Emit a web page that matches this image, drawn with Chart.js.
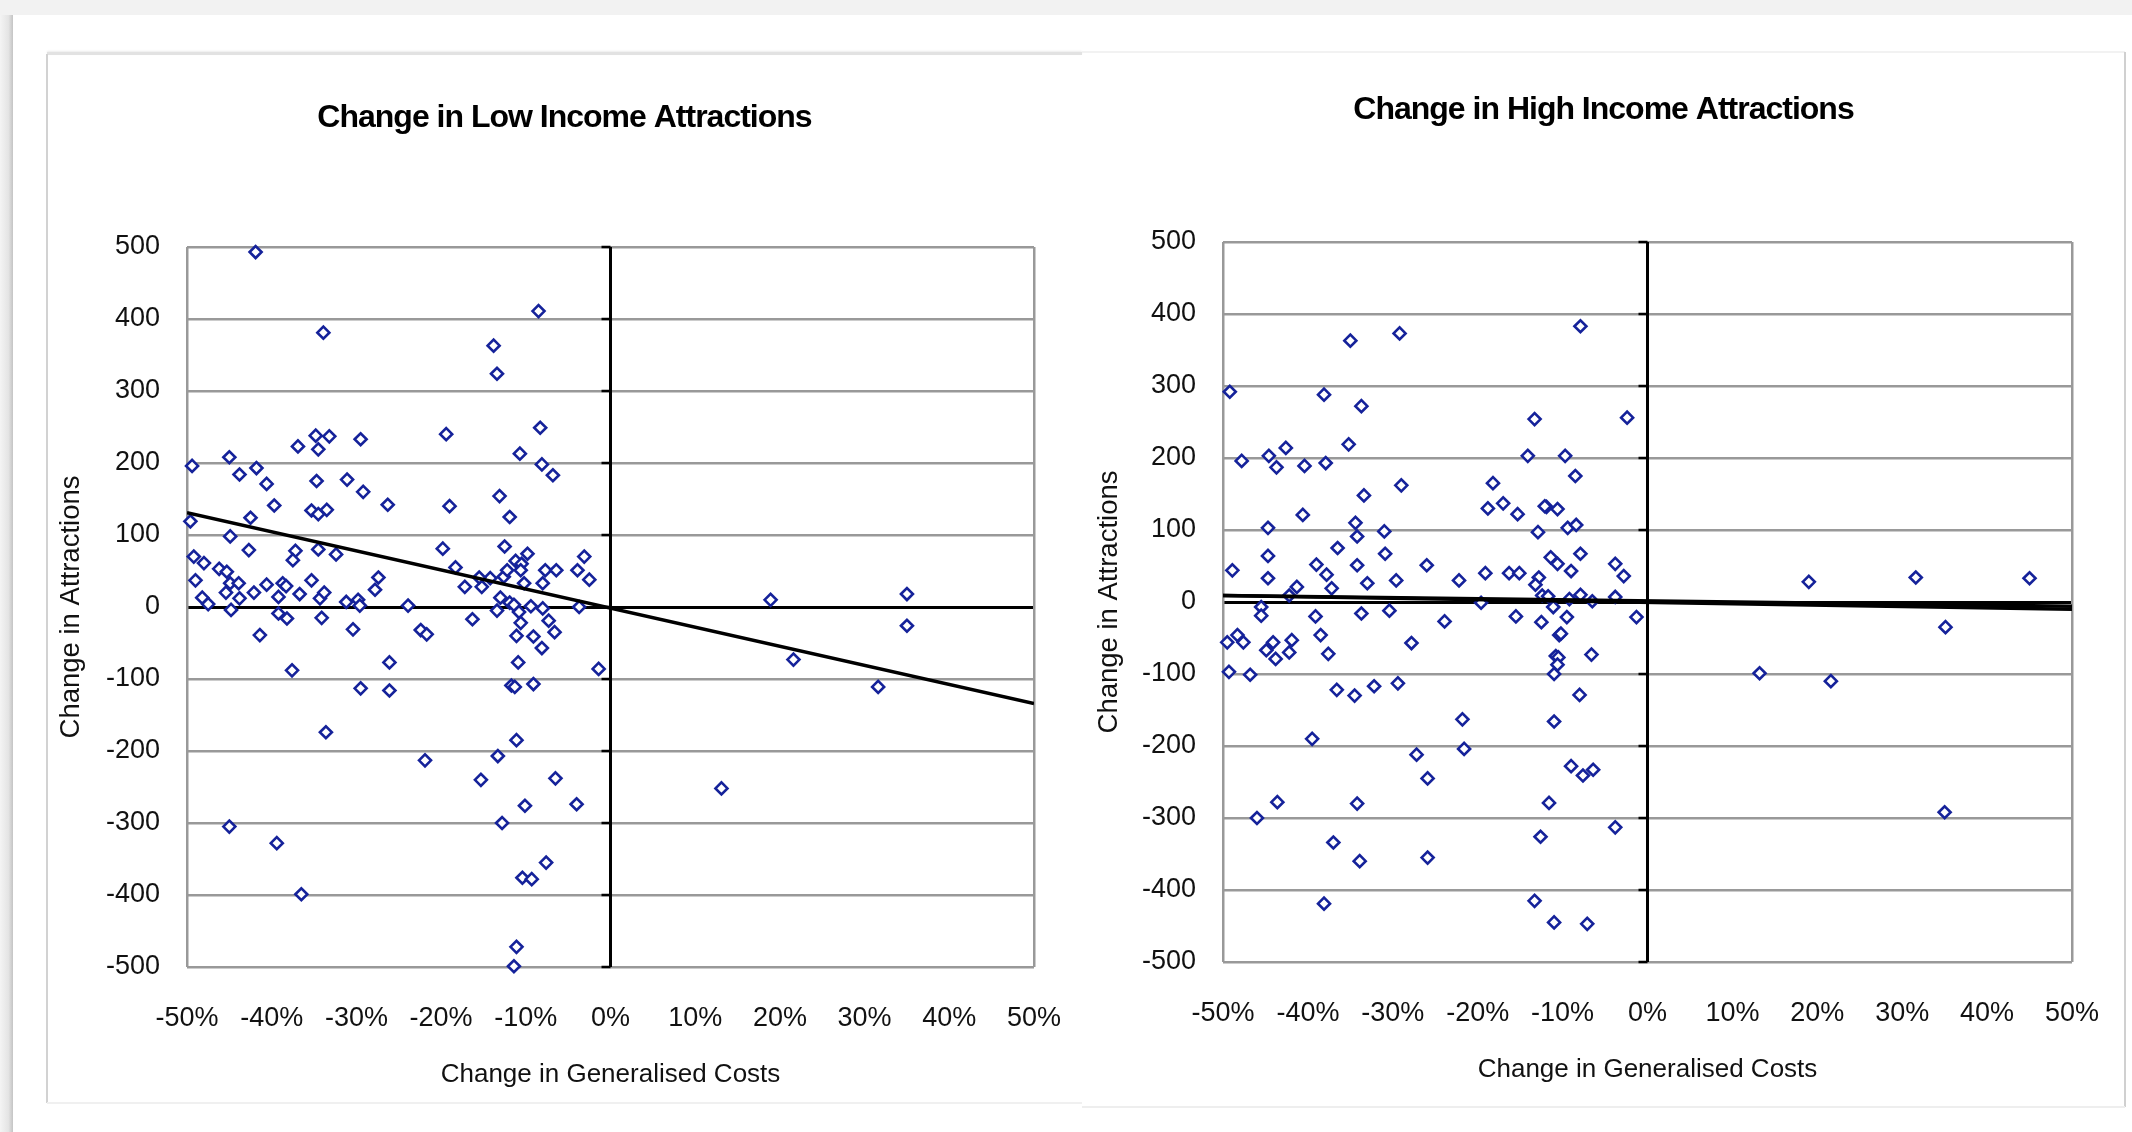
<!DOCTYPE html>
<html>
<head>
<meta charset="utf-8">
<title>Change in Attractions vs Change in Generalised Costs</title>
<script src="https://cdn.jsdelivr.net/npm/chart.js@4.4.1/dist/chart.umd.min.js"></script>
<style>
  html, body { margin: 0; padding: 0; background: #fff; }
  body { position: relative; width: 2132px; height: 1132px; overflow: hidden; font-family: "Liberation Sans", Arial, sans-serif; }
  .strip, .edge, canvas { position: absolute; }
  #topStrip { left: 0; top: 0; width: 2132px; height: 15px; background: #f2f2f2; }
  #leftStrip { left: 0; top: 15px; width: 13px; height: 1117px; background: linear-gradient(to right, #f4f4f4, #e4e4e4 65%, #c4c4c4); }
  #lowTopEdge { left: 47px; top: 52px; width: 1035px; height: 3px; background: #e2e2e2; box-shadow: 0 -1px 2px #ececec; }
  #lowLeftEdge { left: 46px; top: 54px; width: 2px; height: 1049px; background: #d2d2d2; }
  #lowBottomEdge { left: 47px; top: 1102px; width: 1035px; height: 2px; background: #f0f0f0; }
  #highTopEdge { left: 1082px; top: 51px; width: 1043px; height: 2px; background: #f2f2f2; }
  #highRightEdge { left: 2124px; top: 52px; width: 2px; height: 1055px; background: #d0d0d0; }
  #highBottomEdge { left: 1082px; top: 1106px; width: 1043px; height: 2px; background: #eeeeee; }
  #lowChart { left: 47px; top: 54px; }
  #highChart { left: 1082px; top: 52px; }
</style>
</head>
<body>
<div class="strip" id="topStrip"></div>
<div class="strip" id="leftStrip"></div>
<div class="edge" id="lowTopEdge"></div>
<div class="edge" id="lowLeftEdge"></div>
<div class="edge" id="lowBottomEdge"></div>
<div class="edge" id="highTopEdge"></div>
<div class="edge" id="highRightEdge"></div>
<div class="edge" id="highBottomEdge"></div>
<canvas id="lowChart" width="1035" height="1049"></canvas>
<canvas id="highChart" width="1043" height="1055"></canvas>

<script>
// Low income zones: change in generalised cost (%) and change in attractions
const lowX = [
  -41.9, -8.5, -33.9, -13.8, -13.4, -8.3, -34.8, -33.2, -29.5, -19.4,
  -36.9, -34.5, -10.7, -49.4, -45.0, -41.8, -8.1, -43.8, -6.8, -40.6,
  -34.7, -31.1, -29.2, -39.7, -26.3, -19.0, -13.1, -11.9, -35.3, -34.5,
  -33.5, -49.6, -42.5, -44.9, -12.5, -19.8, -42.7, -37.2, -34.5, -32.4,
  -49.2, -48.0, -37.5, -9.8, -3.1, -11.2, -10.5, -49.0, -46.2, -45.3,
  -45.4, -44.9, -43.9, -42.1, -40.6, -38.7, -38.3, -36.7, -35.3, -34.3,
  -33.8, -39.2, -43.8, -48.2, -47.5, -44.8, -39.2, -38.2, -34.1, -41.4,
  -37.6, -33.6, -45.0, -39.4, -36.5, -31.2, -29.8, -29.6, -30.4, -29.5,
  -27.8, -27.4, -23.9, -26.1, -26.1, -22.4, -21.7, -21.9, -18.3, -17.2,
  -16.3, -15.2, -15.3, -14.2, -13.4, -13.0, -13.3, -12.8, -11.9, -11.4,
  -10.8, -10.6, -11.1, -10.9, -11.7, -11.3, -11.1, -10.1, -10.4, -9.3,
  -7.6, -11.1, -11.4, -15.5, -12.6, -10.2, -9.4, -8.0, -7.3, -6.6,
  -9.1, -8.1, -9.1, -6.5, -4.0, -7.7, -6.4, -3.9, -2.5, -3.7,
  -1.4, -12.2, -10.6, -8.0, 18.9, 21.6, 13.1, 31.6, 35.0, 35.0
];
const lowY = [
  493, 411, 381, 363, 324, 249, 238, 237, 233, 240,
  223, 219, 213, 196, 208, 193, 198, 184, 183, 171,
  175, 177, 160, 141, 142, 140, 154, 125, 134, 129,
  135, 119, 124, 98, 84, 81, 79, 78, 80, 73,
  70, 61, 65, 74, 70, 64, 60, 37, 53, 49,
  20, 33, 33, 20, 31, 33, 29, 18, 37, 12,
  20, 14, 12, 13, 4, -4, -9, -16, -15, -39,
  -88, -174, -305, -328, -399, 7, 10, 2, -31, -113,
  24, 41, 2, -77, -116, -32, -38, -213, 55, 28,
  -17, 28, -240, 40, -5, 13, -207, -300, 6, 3,
  -7, -22, -40, -77, -109, -111, -185, -276, -376, -378,
  -355, -472, -499, 41, 42, 33, 1, -2, -19, -35,
  -41, -57, -107, -238, -274, 51, 51, 51, 38, 0,
  -86, 51, 51, 33, 10, -73, -252, -111, 18, -26
];

// High income zones
const highX = [
  -7.9, -29.2, -35.0, -49.2, -38.1, -33.7, -13.3, -2.4, -35.2, -42.6,
  -47.8, -44.6, -43.7, -40.4, -37.9, -14.1, -9.7, -8.5, -18.2, -29.0,
  -33.4, -18.8, -17.0, -15.3, -11.9, -10.6, -40.6, -34.4, -34.2, -44.7,
  -31.0, -12.9, -9.4, -8.4, -36.5, -44.7, -30.9, -7.9, -11.4, -10.6,
  -48.9, -39.0, -37.8, -34.2, -26.0, -44.7, -41.3, -37.2, -33.0, -29.6,
  -22.2, -19.1, -16.3, -15.1, -12.8, -13.2, -9.0, -3.8, -2.8, -42.2,
  -19.6, -12.4, -11.7, -11.1, -9.2, -7.9, -6.5, -3.8, -45.5, -45.5,
  -33.7, -30.4, -23.9, -15.5, -12.5, -9.5, -1.3, -39.1, -49.5, -48.3,
  -47.6, -44.1, -44.9, -43.8, -41.9, -42.2, -38.5, -37.6, -27.8, -49.3,
  -46.8, -36.6, -34.5, -32.2, -29.4, -10.4, -10.2, -10.8, -10.5, -10.6,
  -11.0, -6.6, -8.0, -11.0, -21.8, -21.6, -39.5, -27.2, -25.9, -9.0,
  -7.6, -6.4, -46.0, -43.6, -34.2, -11.6, -3.8, -37.0, -33.9, -25.9,
  -12.6, -38.1, -13.3, -11.0, -7.1, -12.1, 19.0, 31.6, 45.0, 35.1,
  13.2, 21.6, 35.0
];
const highY = [
  383, 373, 363, 292, 288, 272, 254, 256, 219, 214,
  196, 203, 187, 189, 193, 203, 203, 175, 165, 162,
  148, 130, 137, 122, 132, 129, 121, 110, 91, 103,
  98, 97, 103, 107, 75, 64, 67, 67, 62, 53,
  44, 52, 38, 51, 51, 33, 21, 19, 26, 30,
  30, 40, 40, 40, 34, 24, 43, 53, 36, 9,
  -1, 9, 8, -7, 4, 10, 1, 7, -7, -19,
  -16, -12, -27, -20, -28, -21, -21, -20, -56, -46,
  -56, -56, -67, -79, -53, -70, -46, -72, -57, -97,
  -101, -122, -130, -117, -113, -46, -44, -75, -77, -87,
  -100, -73, -129, -166, -163, -204, -190, -212, -245, -228,
  -241, -233, -300, -278, -280, -279, -313, -334, -360, -355,
  -326, -419, -415, -445, -447, 133, 28, 34, 33, -35,
  -99, -110, -292
];

// Linear trend lines (attractions = slope * cost% + intercept)
const lowTrendSlope = -2.65;
const lowTrendIntercept = -1.5;
const highTrendSlopes = [-0.15, -0.19];
const highTrendIntercepts = [1.5, -0.5];

// Axis ranges and tick spacing
const costRange = [-50, 50];
const costStep = 10;
const attractionRange = [-500, 500];
const attractionStep = 100;

const FONT = "'Liberation Sans', Arial, sans-serif";
const TEXT = '#111111';
const MARKER = '#15229a';
const GRID = '#999999';
const CLEAR = 'rgba(0,0,0,0)';

function toPoints(xs, ys) {
  return xs.map((x, i) => ({ x: x, y: ys[i] }));
}

function trendPoints(slope, intercept) {
  return costRange.map(x => ({ x: x, y: slope * x + intercept }));
}

// Short black tick marks on the left side of the vertical zero axis
const zeroAxisTicks = {
  id: 'zeroAxisTicks',
  beforeDatasetsDraw(chart) {
    const { ctx, scales } = chart;
    const x0 = scales.x.getPixelForValue(0);
    ctx.save();
    ctx.strokeStyle = '#000';
    ctx.lineWidth = 2.5;
    scales.y.ticks.forEach(t => {
      const py = scales.y.getPixelForValue(t.value);
      ctx.beginPath();
      ctx.moveTo(x0 - 9, py);
      ctx.lineTo(x0, py);
      ctx.stroke();
    });
    ctx.restore();
  }
};

// Tighter letter spacing for the chart title only
const condensedTitle = {
  id: 'condensedTitle',
  afterLayout(chart) {
    const tb = chart.titleBlock;
    if (!tb || tb._condensed) return;
    const draw = tb.draw.bind(tb);
    tb.draw = function (area) {
      const ctx = chart.ctx;
      ctx.save();
      ctx.letterSpacing = '-1px';
      draw(area);
      ctx.restore();
    };
    tb._condensed = true;
  }
};

function makeChart(id, titleText, scatterData, trendSets, geo) {
  const datasets = trendSets.map(pts => ({
    type: 'line',
    data: pts,
    borderColor: '#000',
    borderWidth: 3.5,
    pointRadius: 0,
    fill: false,
    tension: 0,
    order: 0
  }));
  datasets.push({
    type: 'scatter',
    data: scatterData,
    pointStyle: 'rectRot',
    pointRadius: 6,
    pointBorderWidth: 2.6,
    borderColor: MARKER,
    backgroundColor: '#ffffff',
    clip: false,
    order: 1
  });

  return new Chart(document.getElementById(id), {
    type: 'scatter',
    data: { datasets: datasets },
    plugins: [zeroAxisTicks, condensedTitle],
    options: {
      responsive: false,
      animation: false,
      devicePixelRatio: 1,
      layout: { padding: 0 },
      plugins: {
        legend: { display: false },
        tooltip: { enabled: false },
        title: {
          display: true,
          text: titleText,
          color: '#000',
          font: { family: FONT, size: 32, weight: 'bold' },
          padding: { top: geo.titleTop, bottom: geo.titleBottom }
        }
      },
      scales: {
        y: {
          type: 'linear',
          min: attractionRange[0],
          max: attractionRange[1],
          afterFit: s => { s.width = geo.yWidth; },
          ticks: {
            stepSize: attractionStep,
            padding: 0,
            color: TEXT,
            font: { family: FONT, size: 27 }
          },
          grid: {
            drawTicks: true,
            tickLength: 27,
            tickColor: CLEAR,
            color: c => (c.tick && c.tick.value === 0) ? '#000' : GRID,
            lineWidth: c => (c.tick && c.tick.value === 0) ? 3 : 2.5
          },
          border: { display: false },
          title: {
            display: true,
            text: 'Change in Attractions',
            color: TEXT,
            font: { family: FONT, size: 27.5 },
            padding: { top: geo.yTitlePad, bottom: 0 }
          }
        },
        x: {
          type: 'linear',
          min: costRange[0],
          max: costRange[1],
          afterFit: s => { s.height = geo.xHeight; },
          ticks: {
            stepSize: costStep,
            padding: 0,
            color: TEXT,
            font: { family: FONT, size: 27 },
            callback: v => v + '%'
          },
          grid: {
            drawTicks: true,
            tickLength: 35,
            tickColor: CLEAR,
            color: c => {
              if (!c.tick) return CLEAR;
              if (c.tick.value === 0) return '#000';
              if (Math.abs(c.tick.value) === 50) return GRID;
              return CLEAR;
            },
            lineWidth: c => (c.tick && c.tick.value === 0) ? 3 : 2.5
          },
          border: { display: false },
          title: {
            display: true,
            text: 'Change in Generalised Costs',
            color: TEXT,
            font: { family: FONT, size: 26 },
            padding: { top: 0, bottom: geo.xTitlePad }
          }
        },
        // empty margin on the right so the title stays centred on the panel
        rightMargin: {
          type: 'linear',
          position: 'right',
          afterFit: s => { s.width = geo.right; },
          ticks: { display: false },
          grid: { display: false, drawTicks: false },
          border: { display: false }
        }
      }
    }
  });
}

makeChart('lowChart', 'Change in Low Income Attractions',
  toPoints(lowX, lowY),
  [trendPoints(lowTrendSlope, lowTrendIntercept)],
  { right: 48, titleTop: 44.8, titleBottom: 109.8, yWidth: 140, xHeight: 136, yTitlePad: 7.5, xTitlePad: 12.4 });

makeChart('highChart', 'Change in High Income Attractions',
  toPoints(highX, highY),
  highTrendSlopes.map((s, i) => trendPoints(s, highTrendIntercepts[i])),
  { right: 53, titleTop: 38.8, titleBottom: 112.8, yWidth: 141, xHeight: 145, yTitlePad: 10.5, xTitlePad: 21.4 });
</script>
</body>
</html>
